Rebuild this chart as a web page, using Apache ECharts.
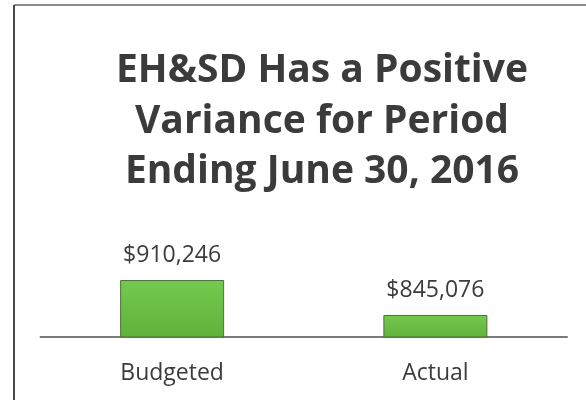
<!DOCTYPE html>
<html>
<head>
<meta charset="utf-8">
<script src="https://cdn.jsdelivr.net/npm/echarts@6/dist/echarts.min.js"></script>
<style>
  html, body { margin: 0; padding: 0; background: #fff; overflow: hidden; }
  #chart { width: 586px; height: 400px; }
</style>
</head>
<body>
<div id="chart"></div>
<script>
const titleText = 'EH&SD Has a Positive\nVariance for Period\nEnding June 30, 2016'
const categories = ['Budgeted', 'Actual']
const amounts = [910246, 845076]

const chart = echarts.init(document.getElementById('chart'))

const fmtMoney = (v) => '$' + v.toLocaleString('en-US')

chart.setOption({
  animation: false,
  backgroundColor: '#fff',
  title: {
    text: titleText,
    left: 317,
    top: 41,
    textAlign: 'center',
    textStyle: {
      fontFamily: 'Open Sans',
      fontWeight: 'bold',
      fontSize: 39,
      lineHeight: 50.5,
      color: '#3b3b3b'
    }
  },
  // slide frame (top + left edges only are visible in the reference)
  graphic: [
    {
      type: 'line',
      shape: { x1: 14, y1: 5, x2: 586, y2: 5 },
      style: { stroke: '#8a8a8a', lineWidth: 2 }
    },
    {
      type: 'line',
      shape: { x1: 14, y1: 5, x2: 14, y2: 400 },
      style: { stroke: '#4a4a4a', lineWidth: 2 }
    }
  ],
  grid: { left: 40.5, right: 19, top: 258.7, bottom: 63 },
  xAxis: {
    type: 'category',
    data: categories,
    axisTick: { show: false },
    axisLine: { lineStyle: { color: '#7a7a7a', width: 2 } },
    axisLabel: {
      margin: 25,
      fontFamily: 'Open Sans',
      fontSize: 23,
      color: '#3b3b3b'
    }
  },
  yAxis: {
    type: 'value',
    min: 804000,
    max: 950000,
    show: false,
    splitLine: { show: false }
  },
  series: [
    {
      type: 'bar',
      data: amounts,
      barWidth: 104,
      itemStyle: {
        color: new echarts.graphic.LinearGradient(0, 0, 0, 1, [
          { offset: 0, color: '#74c94f' },
          { offset: 1, color: '#5fb23a' }
        ]),
        borderColor: '#4f6e3c',
        borderWidth: 1
      },
      label: {
        show: true,
        position: 'top',
        distance: 13,
        formatter: (p) => fmtMoney(p.value),
        fontFamily: 'Open Sans',
        fontSize: 23,
        color: '#3b3b3b'
      }
    }
  ]
})
</script>
</body>
</html>
